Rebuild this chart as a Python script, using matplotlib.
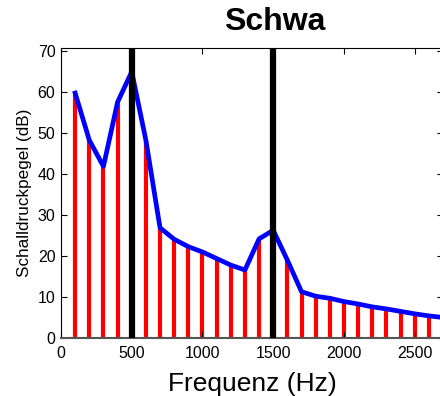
import numpy as np
import matplotlib
matplotlib.use("Agg")
import matplotlib.pyplot as plt

plt.rcParams['font.family'] = ['Liberation Sans', 'DejaVu Sans']

# harmonics of the schwa spectrum (Hz) and their levels (dB)
freqs = [100, 200, 300, 400, 500, 600, 700, 800, 900, 1000, 1100, 1200, 1300, 1400,
         1500, 1600, 1700, 1800, 1900, 2000, 2100, 2200, 2300, 2400, 2500, 2600, 2700]
levels = [59.8, 48.3, 41.9, 57.6, 65.0, 48.3, 26.9, 24.1, 22.3, 21.0, 19.4, 17.8, 16.6, 24.2,
          26.3, 19.0, 11.3, 10.2, 9.7, 8.9, 8.3, 7.6, 7.1, 6.5, 5.9, 5.4, 5.0]
formants = [500, 1500]

title = "Schwa"
xlabel = "Frequenz (Hz)"
ylabel = "Schalldruckpegel (dB)"


def main():
    fig = plt.figure(figsize=(4.4, 3.96), dpi=100)
    ax = fig.add_axes([61/440, 58/396, (443-61)/440, 290/396])

    ax.vlines(freqs, 0, levels, colors='#ff0000', linewidth=3, zorder=1)
    ax.plot(freqs, levels, color='#0000ff', linewidth=3.4, zorder=2,
            solid_joinstyle='round')
    ax.vlines(formants, 0, 75, colors='black', linewidth=4.5, zorder=3)

    ax.set_xlim(0, 2700)
    ax.set_ylim(0, 70.8)
    ax.set_xticks([0, 500, 1000, 1500, 2000, 2500])
    ax.set_yticks(range(0, 71, 10))
    ax.tick_params(direction='in', top=True, right=True, length=4, labelsize=11.5)
    ax.tick_params(axis='x', pad=6)
    ax.tick_params(axis='y', pad=4)
    ax.spines['bottom'].set_color('#555555')
    ax.spines['bottom'].set_linewidth(1.5)

    ax.set_xlabel(xlabel, fontsize=19, labelpad=8)
    ax.set_ylabel(ylabel, fontsize=12.3, labelpad=4)
    fig.text(275/440, 1 - 22/396, title, fontsize=23, fontweight='bold',
             ha='center', va='center')

    fig.savefig("out.png", dpi=100)


if __name__ == "__main__":
    main()
